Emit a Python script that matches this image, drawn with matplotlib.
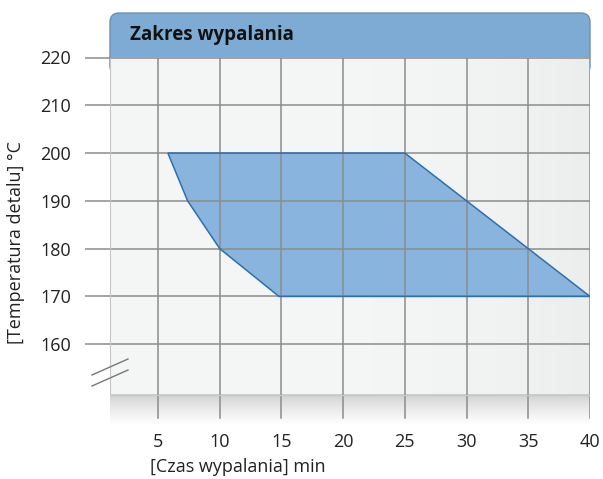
import numpy as np
import matplotlib
matplotlib.use("Agg")
import matplotlib.pyplot as plt
from matplotlib.patches import FancyBboxPatch, Polygon
from matplotlib.lines import Line2D

plt.rcParams['font.family'] = ['Open Sans', 'DejaVu Sans']

# data
x_ticks = [5, 10, 15, 20, 25, 30, 35, 40]
y_ticks = [160, 170, 180, 190, 200, 210, 220]
region_time = [5.8, 7.4, 10, 14.8, 40, 25]
region_temp = [200, 190, 180, 170, 170, 200]
title = "Zakres wypalania"
x_label = "[Czas wypalania] min"
y_label = "[Temperatura detalu] °C"

W, H = 603, 479
fig = plt.figure(figsize=(W / 100, H / 100), dpi=100)

# axes box in pixels (from top-left)
left, right, top, bottom = 110, 590, 57.5, 425
ax = fig.add_axes([left / W, (H - bottom) / H, (right - left) / W, (bottom - top) / H])

x0 = 5 - 48 / 12.343
grid_bottom = 149.4
y_min = 143.1
tick_end = 144.5
ax.set_xlim(x0, 40)
ax.set_ylim(y_min, 220)
ax.set_facecolor('white')

# plot area background, faint horizontal gradient
grad = np.linspace(0, 1, 256)
bg = np.ones((1, 256, 3))
shade = 0.968 - 0.035 * grad ** 4
bg[0, :, 0] = shade - 0.008
bg[0, :, 1] = shade - 0.003
bg[0, :, 2] = shade - 0.003
ax.imshow(bg, extent=[x0, 40, grid_bottom, 220], aspect='auto', zorder=0)

# gray band below the grid, fading to white
band = np.linspace(0, 1, 64)
band_img = np.ones((64, 1, 3)) * (0.80 + 0.20 * band[:, None, None] ** 0.7)
ax.imshow(band_img, extent=[x0, 40, y_min, grid_bottom], aspect='auto',
          zorder=0, origin='upper')

# region
ax.add_patch(Polygon(list(zip(region_time, region_temp)), closed=True,
                     facecolor='#89b4dd', edgecolor='none', zorder=1))

grid_c = '#8c8c8c'
for xv in x_ticks:
    ax.plot([xv, xv], [tick_end, 220], color=grid_c, lw=1.1, zorder=2)
for yv in y_ticks:
    ax.plot([x0, 40], [yv, yv], color=grid_c, lw=1.1, zorder=2)
ax.plot([x0, x0], [grid_bottom, 220], color='#c4c4c4', lw=1.5, zorder=2)
ax.plot([x0, 40], [grid_bottom, grid_bottom], color='#c8c8c8', lw=1, zorder=2)

ax.add_patch(Polygon(list(zip(region_time, region_temp)), closed=True,
                     facecolor='none', edgecolor='#2f6fae', lw=1.1, zorder=3))

for s in ax.spines.values():
    s.set_visible(False)

ax.set_xticks(x_ticks)
ax.set_yticks(y_ticks)
ax.tick_params(axis='x', length=0, pad=6, labelsize=13, labelcolor='#222222')
ax.tick_params(axis='y', length=18, width=1.1, color=grid_c, pad=10,
               labelsize=13, labelcolor='#222222')

fig.text(150 / W, 1 - 467 / H, x_label, fontsize=13, color='#222222',
         ha='left', va='center')
fig.text(16 / W, 1 - 243 / H, y_label, fontsize=13, color='#222222',
         ha='center', va='center', rotation=90)

# header box
hdr = FancyBboxPatch((left / W, 1 - 75 / H), (right - left) / W, 62 / H,
                     boxstyle="round,pad=0,rounding_size=0.015",
                     transform=fig.transFigure, facecolor='#7eabd4',
                     edgecolor='#6f8fae', lw=1, zorder=-1, mutation_aspect=W / H)
fig.patches.append(hdr)
fig.text(130 / W, 1 - 35 / H, title, fontsize=13.5, fontweight='bold',
         color='#111111', ha='left', va='center')

# axis break marks
for dy in (0, 11):
    fig.add_artist(Line2D([92 / W, 128 / W], [1 - (375 + dy) / H, 1 - (359 + dy) / H],
                          transform=fig.transFigure, color='#777777', lw=1))

fig.savefig('out.png', dpi=100)
